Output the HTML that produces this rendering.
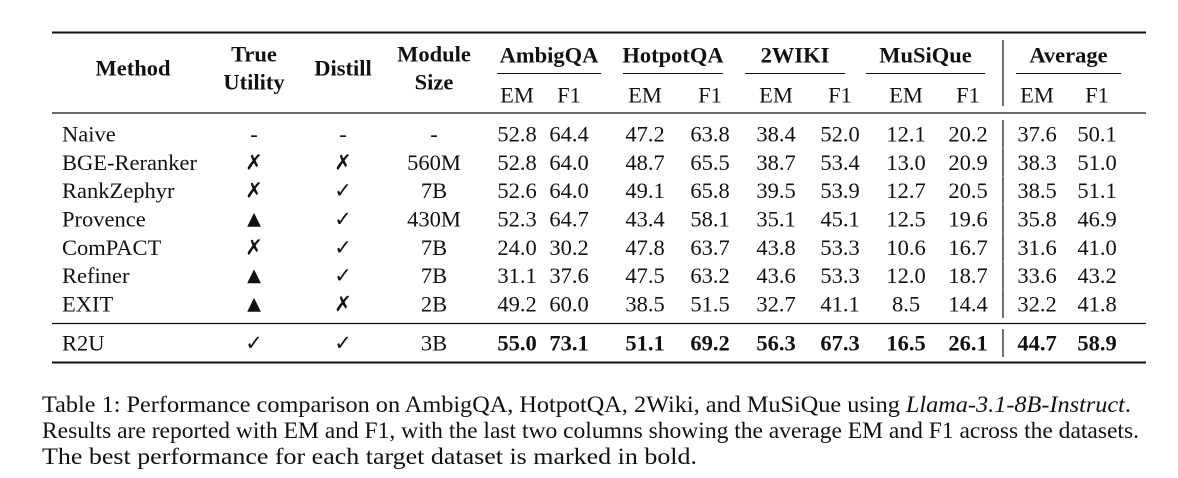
<!DOCTYPE html>
<html><head><meta charset="utf-8"><style>
html,body{margin:0;padding:0;background:#fff;}
svg{display:block;font-family:"Liberation Serif","DejaVu Serif",serif;}
text{fill:#111;}
</style></head><body>
<svg id="t" width="1178" height="478" viewBox="0 0 1178 478" xmlns="http://www.w3.org/2000/svg">
<line x1="52" y1="32.5" x2="1146" y2="32.5" stroke="#111" stroke-width="2"/>
<line x1="52" y1="113" x2="1146" y2="113" stroke="#111" stroke-width="1.3"/>
<line x1="52" y1="323.5" x2="1146" y2="323.5" stroke="#111" stroke-width="1.3"/>
<line x1="52" y1="362.5" x2="1146" y2="362.5" stroke="#111" stroke-width="2"/>
<g id="g"></g>
<g font-size="23">
<text x="42" y="412" textLength="1089" lengthAdjust="spacingAndGlyphs">Table 1: Performance comparison on AmbigQA, HotpotQA, 2Wiki, and MuSiQue using <tspan font-style="italic">Llama-3.1-8B-Instruct</tspan>.</text>
<text x="42" y="438" textLength="1097" lengthAdjust="spacingAndGlyphs">Results are reported with EM and F1, with the last two columns showing the average EM and F1 across the datasets.</text>
<text x="42" y="464" textLength="655" lengthAdjust="spacingAndGlyphs">The best performance for each target dataset is marked in bold.</text>
</g>
</svg>
<script>
const methods=["Naive","BGE-Reranker","RankZephyr","Provence","ComPACT","Refiner","EXIT","R2U"];
const utility=["-","✗","✗","▲","✗","▲","▲","✓"];
const distill=["-","✗","✓","✓","✓","✓","✗","✓"];
const sizes=["-","560M","7B","430M","7B","7B","2B","3B"];
const scores=[
["52.8","64.4","47.2","63.8","38.4","52.0","12.1","20.2","37.6","50.1"],
["52.8","64.0","48.7","65.5","38.7","53.4","13.0","20.9","38.3","51.0"],
["52.6","64.0","49.1","65.8","39.5","53.9","12.7","20.5","38.5","51.1"],
["52.3","64.7","43.4","58.1","35.1","45.1","12.5","19.6","35.8","46.9"],
["24.0","30.2","47.8","63.7","43.8","53.3","10.6","16.7","31.6","41.0"],
["31.1","37.6","47.5","63.2","43.6","53.3","12.0","18.7","33.6","43.2"],
["49.2","60.0","38.5","51.5","32.7","41.1","8.5","14.4","32.2","41.8"],
["55.0","73.1","51.1","69.2","56.3","67.3","16.5","26.1","44.7","58.9"]];
const groups=["AmbigQA","HotpotQA","2WIKI","MuSiQue","Average"];
const NS="http://www.w3.org/2000/svg";
const g=document.getElementById('g');
const colX=[517,569,645,710,776,840,906,968,1037,1097];
const grpL=[497,623,745,866,1016],grpR=[601,723,845,985,1121];
function T(x,y,s,anchor,bold,name,fs){
 const t=document.createElementNS(NS,'text');
 t.setAttribute('x',x);t.setAttribute('y',y);
 t.setAttribute('text-anchor',anchor);t.setAttribute('dominant-baseline','central');
 t.setAttribute('font-size',fs||22.5);
 if(bold)t.setAttribute('font-weight','bold');
 t.textContent=s;
 
 
 g.appendChild(t);return t;
}
function L(x1,y1,x2,y2,w,name){
 const l=document.createElementNS(NS,'line');
 l.setAttribute('x1',x1);l.setAttribute('y1',y1);l.setAttribute('x2',x2);l.setAttribute('y2',y2);
 l.setAttribute('stroke','#111');l.setAttribute('stroke-width',w);
 
 
 g.appendChild(l);
}
T(133,68,"Method","middle",true,"method-header");
T(254,54,"True","middle",true,"true-utility-header");
T(254,82,"Utility","middle",true,"true-utility-header");
T(343,68,"Distill","middle",true,"distill-header");
T(434,54,"Module","middle",true,"module-size-header");
T(434,82,"Size","middle",true,"module-size-header");
groups.forEach((n,i)=>{
 T((grpL[i]+grpR[i])/2,55,n,"middle",true,"group-header");
 L(grpL[i],73.5,grpR[i],73.5,1,"group-underline");
 T(colX[2*i],95,"EM","middle",false,"em-header");
 T(colX[2*i+1],95,"F1","middle",false,"f1-header");
});
L(1003,40,1003,106,1.2,"average-separator");
const rowY=i=>i<7?134+i*28.33:343;
methods.forEach((m,i)=>{
 const y=rowY(i);const b=i===7;
 T(62,y,m,"start",false,"method-name");
 const sym=(s)=>s==="▲"?18:(s==="-"?22.5:21);
 const u=T(254,y,utility[i],"middle",false,"true-utility-mark",sym(utility[i]));
 if(utility[i]!=="-")u.setAttribute('font-family','DejaVu Sans');
 const d=T(343,y,distill[i],"middle",false,"distill-mark",sym(distill[i]));
 if(distill[i]!=="-")d.setAttribute('font-family','DejaVu Sans');
 T(434,y,sizes[i],"middle",false,"module-size");
 scores[i].forEach((v,j)=>T(colX[j],y,v,"middle",b,"score-cell"));
 L(1003,y-14,1003,y+14,1.2,"average-separator");
});
</script>
</body></html>
